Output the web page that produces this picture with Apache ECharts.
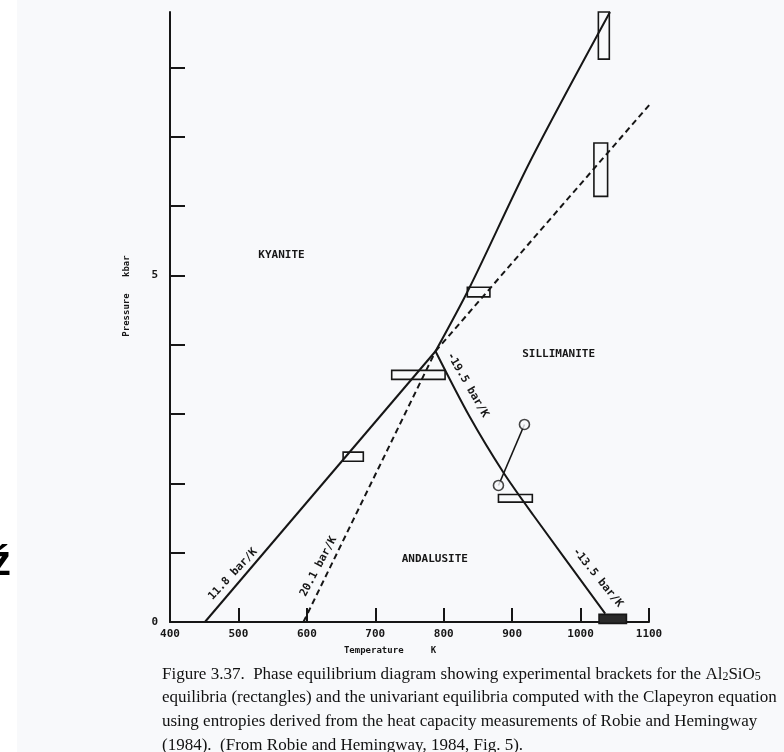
<!DOCTYPE html>
<html>
<head>
<meta charset="utf-8">
<script src="https://cdn.jsdelivr.net/npm/echarts@6/dist/echarts.min.js"></script>
<style>
  html, body { margin: 0; padding: 0; background: #ffffff; }
  #main { width: 784px; height: 752px; }
</style>
</head>
<body>
<div id="main"></div>
<script>
// values: temperature in K, pressure in kbar
const xTicks = [400, 500, 600, 700, 800, 900, 1000, 1100];
const yTicks = [0, 1, 2, 3, 4, 5, 6, 7, 8];
const yLabelled = [0, 5];

// univariant curves (solid)
const kyAndT = [451, 788];
const kyAndP = [0, 3.906];
const kySilT = [788, 838, 926, 1043];
const kySilP = [3.906, 4.83, 6.64, 8.80];
const andSilT = [788, 838, 887, 931, 1036];
const andSilP = [3.906, 2.96, 2.16, 1.54, 0.12];

// metastable extensions (dashed)
const metaKySilT = [595, 788];
const metaKySilP = [0, 3.906];
const metaKyAndT = [788, 1111];
const metaKyAndP = [3.906, 7.58];

// experimental brackets: Tmin, Tmax, Pmin, Pmax
const bracketTmin = [653, 724, 834.5, 1026, 1019.5, 880];
const bracketTmax = [682.5, 802, 867.5, 1042, 1039.5, 929.5];
const bracketPmin = [2.32, 3.50, 4.69, 8.12, 6.14, 1.73];
const bracketPmax = [2.45, 3.63, 4.83, 8.80, 6.91, 1.84];
const solidBracket = [1027, 1067, -0.02, 0.11];

// reversal pair joined by a line
const reversalT = [918, 880];
const reversalP = [2.85, 1.97];

// text placed in the diagram
const fieldNames = ['KYANITE', 'SILLIMANITE', 'ANDALUSITE'];
const fieldT = [563, 968, 787];
const fieldP = [5.29, 3.86, 0.91];
const slopeNames = ['11.8 bar/K', '20.1 bar/K', '-19.5 bar/K', '-13.5 bar/K'];
const slopeT = [492, 617, 835, 1025];
const slopeP = [0.69, 0.80, 3.42, 0.64];
const slopeAngle = [47, 62, -60, -51];

const ink = '#161616';
const paper = '#f8f9fb';
const monoFont = '"DejaVu Sans Mono", monospace';
const serif = '17px "Liberation Serif"';

const chart = echarts.init(document.getElementById('main'));

function pairs(ts, ps) {
    return ts.map((t, i) => [t, ps[i]]);
}

function bracketItem(fill) {
    return function (params, api) {
        const a = api.coord([api.value(0), api.value(3)]);
        const b = api.coord([api.value(1), api.value(2)]);
        return {
            type: 'rect',
            shape: { x: a[0], y: a[1], width: b[0] - a[0], height: b[1] - a[1] },
            style: { fill: fill, stroke: ink, lineWidth: 1.6 }
        };
    };
}

function textItem(names, angles) {
    return function (params, api) {
        const p = api.coord([api.value(0), api.value(1)]);
        const i = params.dataIndex;
        return {
            type: 'text', x: p[0], y: p[1],
            rotation: angles ? angles[i] * Math.PI / 180 : 0,
            style: { text: names[i], fill: ink, font: 'bold 11px ' + monoFont,
                     align: 'center', verticalAlign: 'middle' }
        };
    };
}

const solidLine = { color: ink, width: 2 };
const dashLine = { color: ink, width: 2, type: [6, 4] };

const option = {
    animation: false,
    backgroundColor: '#ffffff',
    grid: { left: 170, right: 135, top: 12, bottom: 130 },
    xAxis: {
        type: 'value',
        min: 400,
        max: 1100,
        interval: 100,
        axisLine: { onZero: false, lineStyle: { color: ink, width: 2 } },
        axisTick: { inside: true, length: 14, customValues: xTicks, lineStyle: { color: ink, width: 2 } },
        axisLabel: {
            customValues: xTicks,
            formatter: v => String(v),
            color: ink, fontFamily: monoFont, fontWeight: 'bold', fontSize: 11, margin: 7
        },
        splitLine: { show: false }
    },
    yAxis: {
        type: 'value',
        min: 0,
        max: 8.8,
        interval: 1,
        axisLine: { show: true, onZero: false, lineStyle: { color: ink, width: 2 } },
        axisTick: {
            show: true, inside: true, length: 15, customValues: yTicks,
            lineStyle: { color: ink, width: 2 }
        },
        axisLabel: {
            customValues: yLabelled,
            color: ink, fontFamily: monoFont, fontWeight: 'bold', fontSize: 11, margin: 12
        },
        splitLine: { show: false }
    },
    graphic: [
        { type: 'rect', z: -10, shape: { x: 17, y: 0, width: 767, height: 752 },
          style: { fill: paper } },
        { type: 'text', left: -10, top: 542,
          style: { text: 'ź', font: 'bold 42px "Liberation Sans"', fill: '#000' } },
        { type: 'text', x: 390, y: 651,
          style: { text: 'Temperature     K', font: 'bold 9px ' + monoFont, fill: ink,
                   align: 'center', verticalAlign: 'middle' } },
        { type: 'text', x: 127, y: 296, rotation: Math.PI / 2,
          style: { text: 'Pressure   kbar', font: 'bold 9px ' + monoFont, fill: ink,
                   align: 'center', verticalAlign: 'middle' } },
        { type: 'text', x: 162, y: 663,
          style: {
              text: '{n|Figure 3.37.  Phase equilibrium diagram showing experimental brackets for the Al}{s|2}{n|SiO}{s|5}',
              rich: {
                  n: { font: serif, fill: '#111', height: 20, verticalAlign: 'bottom' },
                  s: { font: '12px "Liberation Serif"', fill: '#111', height: 16, verticalAlign: 'bottom', padding: [6, 0, 0, 0] }
              }
          } },
        { type: 'text', x: 162, y: 689,
          style: { text: 'equilibria (rectangles) and the univariant equilibria computed with the Clapeyron equation',
                   font: serif, fill: '#111' } },
        { type: 'text', x: 162, y: 713,
          style: { text: 'using entropies derived from the heat capacity measurements of Robie and Hemingway',
                   font: serif, fill: '#111' } },
        { type: 'text', x: 162, y: 737,
          style: { text: '(1984).  (From Robie and Hemingway, 1984, Fig. 5).',
                   font: serif, fill: '#111' } }
    ],
    series: [
        { type: 'line', data: pairs(kyAndT, kyAndP), symbol: 'none', lineStyle: solidLine },
        { type: 'line', data: pairs(kySilT, kySilP), symbol: 'none', smooth: 0.3, lineStyle: solidLine },
        { type: 'line', data: pairs(andSilT, andSilP), symbol: 'none', smooth: 0.3, lineStyle: solidLine },
        { type: 'line', data: pairs(metaKySilT, metaKySilP), symbol: 'none', lineStyle: dashLine },
        { type: 'line', data: pairs(metaKyAndT, metaKyAndP), symbol: 'none', clip: false, lineStyle: dashLine },
        {
            type: 'custom',
            data: bracketTmin.map((t, i) => [t, bracketTmax[i], bracketPmin[i], bracketPmax[i]]),
            renderItem: bracketItem('none')
        },
        {
            type: 'custom',
            clip: false,
            data: [solidBracket],
            renderItem: bracketItem('#2a2a2a')
        },
        { type: 'line', data: pairs(reversalT, reversalP), symbol: 'none', lineStyle: { color: ink, width: 1.6 } },
        {
            type: 'scatter',
            data: pairs(reversalT, reversalP),
            symbol: 'circle',
            symbolSize: 10,
            itemStyle: { color: paper, borderColor: ink, borderWidth: 1.6 },
            z: 5
        },
        { type: 'custom', data: pairs(fieldT, fieldP), renderItem: textItem(fieldNames) },
        { type: 'custom', data: pairs(slopeT, slopeP), renderItem: textItem(slopeNames, slopeAngle) }
    ]
};

chart.setOption(option);
</script>
</body>
</html>
